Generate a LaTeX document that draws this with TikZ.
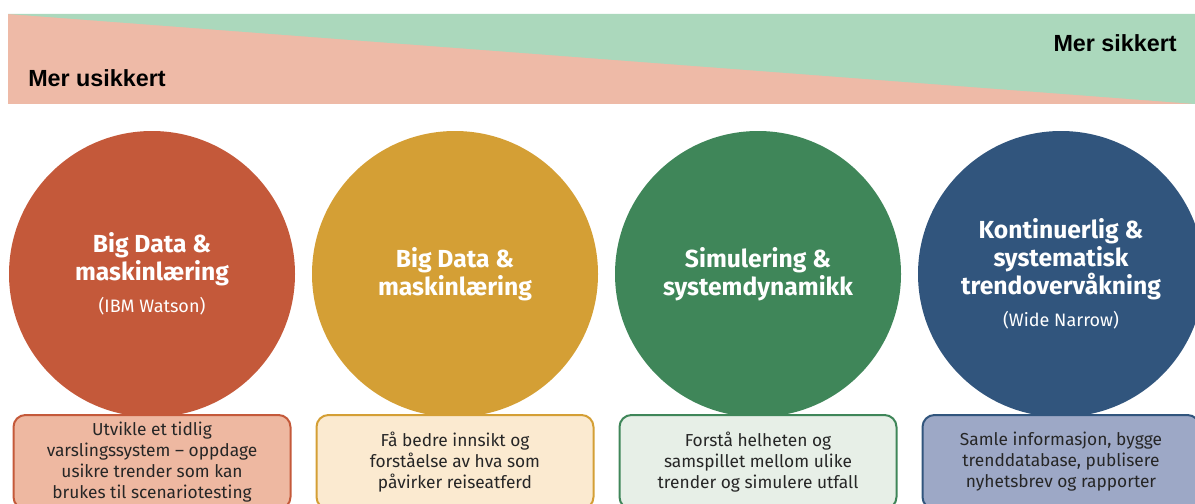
\documentclass[tikz,border=0pt]{standalone}
\usepackage{fontspec}
\setmainfont{Fira Sans}
\newfontfamily\bandfont{Liberation Sans}
\usepackage{xcolor}
\usetikzlibrary{positioning}

\definecolor{rust}{HTML}{C4593A}
\definecolor{mustard}{HTML}{D49F35}
\definecolor{forest}{HTML}{3F8659}
\definecolor{navy}{HTML}{31557D}
\definecolor{rustlight}{HTML}{EEB8A1}
\definecolor{mustardlight}{HTML}{FBEAD0}
\definecolor{forestlight}{HTML}{E7EFE7}
\definecolor{navylight}{HTML}{9DA8C6}
\definecolor{bandpink}{HTML}{EEBAA7}
\definecolor{bandgreen}{HTML}{ABD8BC}
\newcommand{\subtxt}{\mdseries\fontsize{13.5}{15}\selectfont}

\begin{document}
\begin{tikzpicture}[node distance = 141pt and 227.25pt, on grid, circ/.style ={circle, minimum size=214.5pt, inner sep=0pt, text=white, align=center, font=\bfseries\fontsize{18.5}{21}\selectfont}, box/.style={rectangle, rounded corners=9pt, line width=1.5pt, minimum width=207.75pt, minimum height=70.5pt, align=center, text=black!85, font=\fontsize{13}{15.75}\selectfont}, tag/.style={inner sep=0pt, font=\bandfont\bfseries\fontsize{17.5}{20}\selectfont}]
	\useasboundingbox (0,0) rectangle (896.25pt,-377.25pt);
	\clip (0,0) rectangle (896.25pt,-377.25pt);
	% band
	\fill[bandpink] (6pt,-10.5pt) rectangle (896.25pt,-78pt);
	\fill[bandgreen] (6pt,-10.5pt) -- (896.25pt,-10.5pt) -- (896.25pt,-78pt) -- cycle;
	\node[tag, anchor=base west] (usikker) at (21pt,-65pt) {Mer usikkert};
	\node[tag, anchor=base east] (sikker) at (882.75pt,-39pt) {Mer sikkert};
	% circles
	\node[circ, fill=rust] (c1) at (114pt,-205.5pt) {Big Data \&\\maskinlæring\\[3pt]{\subtxt (IBM Watson)}};
	\node[circ, fill=mustard] (c2) [right = of c1] {Big Data \&\\maskinlæring};
	\node[circ, fill=forest] (c3) [right = of c2] {Simulering \&\\systemdynamikk};
	\node[circ, fill=navy] (c4) [right = of c3] {Kontinuerlig \&\\systematisk\\trendovervåkning\\[3pt]{\subtxt (Wide Narrow)}};
	% boxes
	\node[box, draw=rust, fill=rustlight] (b1) [below = of c1] {Utvikle et tidlig\\varslingssystem -- oppdage\\usikre trender som kan\\brukes til scenariotesting};
	\node[box, draw=mustard, fill=mustardlight] (b2) [below = of c2] {Få bedre innsikt og\\forståelse av hva som\\påvirker reiseatferd};
	\node[box, draw=forest, fill=forestlight] (b3) [below = of c3] {Forstå helheten og\\samspillet mellom ulike\\trender og simulere utfall};
	\node[box, draw=navy, fill=navylight] (b4) [below = of c4] {Samle informasjon, bygge\\trenddatabase, publisere\\nyhetsbrev og rapporter};
\end{tikzpicture}
\end{document}
